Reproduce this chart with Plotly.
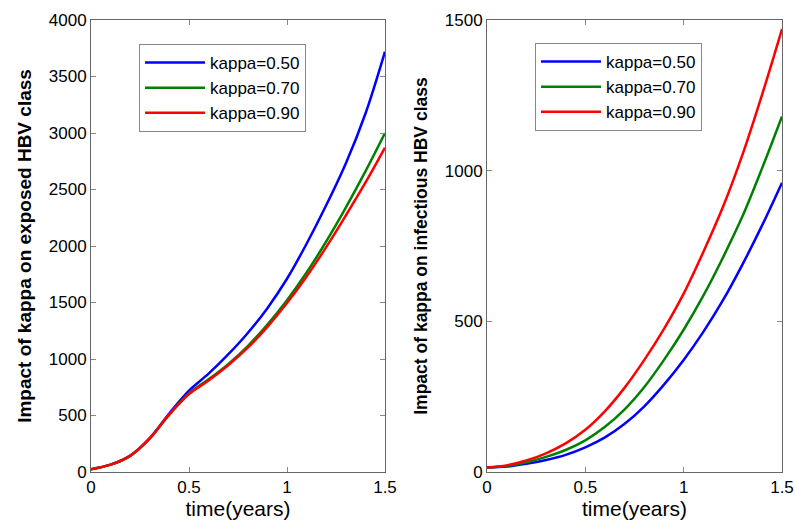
import plotly.graph_objects as go

time = [0.0, 0.1, 0.2, 0.3, 0.4, 0.5, 0.6, 0.7, 0.8, 0.9, 1.0, 1.1, 1.2, 1.3, 1.4, 1.5]

# Left panel: exposed class
exp_k050 = [25, 65, 145, 300, 520, 720, 870, 1040, 1230, 1450, 1710, 2020, 2360, 2730, 3170, 3720]
exp_k070 = [25, 65, 143, 295, 510, 695, 820, 955, 1115, 1305, 1520, 1765, 2040, 2340, 2660, 3000]
exp_k090 = [25, 65, 143, 300, 510, 690, 810, 945, 1100, 1285, 1495, 1730, 1990, 2270, 2560, 2870]

# Right panel: infectious class
inf_k050 = [15, 18, 27, 40, 57, 82, 115, 160, 218, 290, 372, 465, 570, 690, 820, 960]
inf_k070 = [15, 20, 32, 50, 73, 105, 150, 208, 282, 372, 472, 585, 712, 850, 1010, 1180]
inf_k090 = [15, 22, 38, 62, 95, 140, 202, 280, 372, 475, 592, 730, 880, 1055, 1255, 1470]

labels = ["kappa=0.50", "kappa=0.70", "kappa=0.90"]
colors = ["#0000FF", "#008000", "#FF0000"]

x_ticks = [0, 0.5, 1, 1.5]
x_ticktext = ["0", "0.5", "1", "1.5"]
left_yticks = [0, 500, 1000, 1500, 2000, 2500, 3000, 3500, 4000]
right_yticks = [0, 500, 1000, 1500]

FONT = "Liberation Sans, Arial, sans-serif"

fig = go.Figure()
for lab, col, ys in zip(labels, colors, [exp_k050, exp_k070, exp_k090]):
    fig.add_trace(go.Scatter(x=time, y=ys, mode="lines", name=lab,
                             line=dict(color=col, width=2.5, shape="spline", smoothing=1.0),
                             xaxis="x", yaxis="y", legend="legend"))
for lab, col, ys in zip(labels, colors, [inf_k050, inf_k070, inf_k090]):
    fig.add_trace(go.Scatter(x=time, y=ys, mode="lines", name=lab,
                             line=dict(color=col, width=2.5, shape="spline", smoothing=1.0),
                             xaxis="x2", yaxis="y2", legend="legend2"))

W, H = 796, 521
ybot, ytop = 1 - 472 / H, 1 - 20 / H

axis_common = dict(showline=True, linecolor="#666666", linewidth=1, mirror="ticks",
                   ticks="inside", ticklen=5, tickcolor="#888888", showgrid=False,
                   zeroline=False, automargin=False,
                   tickfont=dict(family=FONT, size=17, color="black"))

fig.update_layout(
    width=W, height=H,
    margin=dict(l=0, r=0, t=0, b=0, autoexpand=False),
    paper_bgcolor="white", plot_bgcolor="white",
    font=dict(family=FONT, color="black"),
    xaxis=dict(domain=[91 / W, 385 / W], range=[0, 1.5], tickvals=x_ticks, ticktext=x_ticktext,
               anchor="y",
               title=dict(text="time(years)", font=dict(family=FONT, size=21), standoff=3),
               **axis_common),
    yaxis=dict(domain=[ybot, ytop], range=[0, 4000], tickvals=left_yticks, anchor="x",
               title=dict(text="<b>Impact of kappa on exposed HBV class</b>",
                          font=dict(family=FONT, size=19), standoff=12),
               **axis_common),
    xaxis2=dict(domain=[487 / W, 782 / W], range=[0, 1.5], tickvals=x_ticks, ticktext=x_ticktext,
                anchor="y2",
                title=dict(text="time(years)", font=dict(family=FONT, size=21), standoff=3),
                **axis_common),
    yaxis2=dict(domain=[ybot, ytop], range=[0, 1500], tickvals=right_yticks, anchor="x2",
                title=dict(text="<b>Impact of kappa on infectious HBV class</b>",
                           font=dict(family=FONT, size=17.5), standoff=12),
                **axis_common),
    legend=dict(x=139 / W, y=1 - 44 / H, xanchor="left", yanchor="top",
                bgcolor="white", bordercolor="#888888", borderwidth=1,
                font=dict(family=FONT, size=17), tracegroupgap=0, itemwidth=60),
    legend2=dict(x=535 / W, y=1 - 43 / H, xanchor="left", yanchor="top",
                 bgcolor="white", bordercolor="#888888", borderwidth=1,
                 font=dict(family=FONT, size=17), tracegroupgap=0, itemwidth=60),
    showlegend=True,
)

fig.write_html("out.html")
